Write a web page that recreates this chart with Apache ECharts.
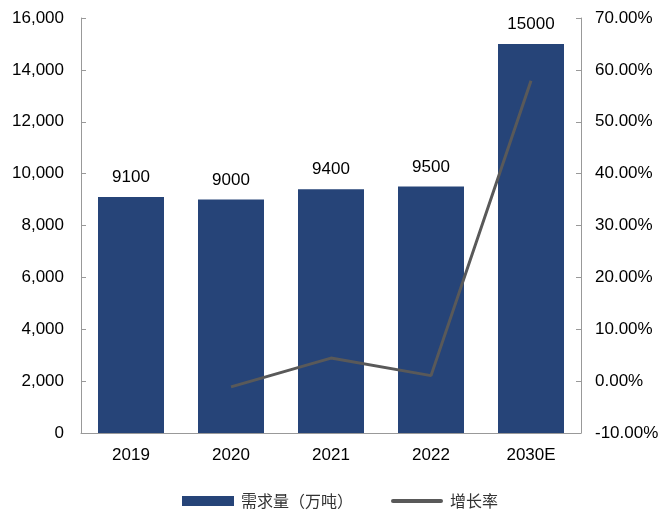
<!DOCTYPE html>
<html>
<head>
<meta charset="utf-8">
<script src="https://cdn.jsdelivr.net/npm/echarts@6/dist/echarts.min.js"></script>
<style>
html,body{margin:0;padding:0;background:#fff;}
#chart{width:662px;height:513px;}
</style>
</head>
<body>
<div id="chart"></div>
<script>
// Demand by year (10k tonnes) and year-on-year growth rate (%)
const categories = ['2019', '2020', '2021', '2022', '2030E'];
const demand = [9100, 9000, 9400, 9500, 15000];
const growth = [null, -1.10, 4.44, 1.06, 57.89];
const leftTicks = [0, 2000, 4000, 6000, 8000, 10000, 12000, 14000, 16000];
const rightTicks = [-10, 0, 10, 20, 30, 40, 50, 60, 70];

const font = 'Liberation Sans, Arial, sans-serif';
const chart = echarts.init(document.getElementById('chart'));
chart.setOption({
  animation: false,
  grid: { left: 81, right: 81, top: 18, bottom: 80 },
  legend: {
    top: 488,
    left: 177,
    itemGap: 38,
    itemWidth: 52,
    itemHeight: 10,
    textStyle: { fontFamily: 'Noto Sans CJK SC', fontSize: 16, color: '#333', padding: [0, 0, 0, 2] },
    data: [
      { name: '需求量（万吨）', icon: 'rect' },
      { name: '增长率', icon: 'path://M2,3 L50,3 A2,2 0 0 1 50,7 L2,7 A2,2 0 0 1 2,3 Z' }
    ]
  },
  xAxis: {
    type: 'category',
    data: categories,
    axisLine: { lineStyle: { color: '#999', width: 1 } },
    axisTick: { show: false },
    axisLabel: { fontFamily: font, fontSize: 17, color: '#000', margin: 14 }
  },
  yAxis: [
    {
      type: 'value',
      min: leftTicks[0],
      max: leftTicks[leftTicks.length - 1],
      interval: 2000,
      splitLine: { show: false },
      axisLine: { show: true, lineStyle: { color: '#999' } },
      axisTick: { show: true, inside: true, length: 5, lineStyle: { color: '#999' } },
      axisLabel: {
        fontFamily: font, fontSize: 17, color: '#000', margin: 17,
        formatter: v => v.toLocaleString('en-US')
      }
    },
    {
      type: 'value',
      min: rightTicks[0],
      max: rightTicks[rightTicks.length - 1],
      interval: 10,
      splitLine: { show: false },
      axisLine: { show: true, lineStyle: { color: '#999' } },
      axisTick: { show: true, inside: true, length: 5, lineStyle: { color: '#999' } },
      axisLabel: {
        fontFamily: font, fontSize: 17, color: '#000', margin: 14,
        formatter: v => v.toFixed(2) + '%'
      }
    }
  ],
  series: [
    {
      name: '需求量（万吨）',
      type: 'bar',
      data: demand,
      barWidth: '66%',
      itemStyle: { color: '#264478' },
      label: {
        show: true, position: 'top', distance: 11,
        fontFamily: font, fontSize: 17, color: '#000'
      }
    },
    {
      name: '增长率',
      type: 'line',
      yAxisIndex: 1,
      data: growth,
      symbol: 'none',
      lineStyle: { color: '#595959', width: 3 },
      itemStyle: { color: '#595959' }
    }
  ]
});
</script>
</body>
</html>
